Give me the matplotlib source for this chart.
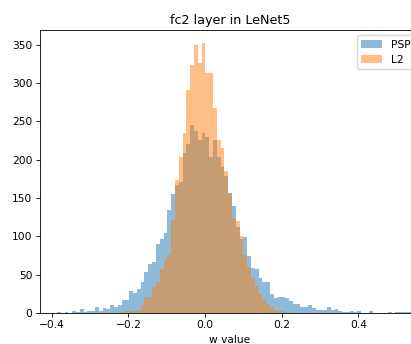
import numpy as np
import matplotlib
matplotlib.use("Agg")
import matplotlib.pyplot as plt

# ---- data ----
bin_start = -0.386
bin_width = 0.00992
psp_counts = [1, 0, 1, 0, 2, 1, 5, 1, 2, 2, 8, 3, 6, 5, 10, 8, 11, 17, 17, 29,
              26, 31, 40, 54, 64, 67, 90, 97, 104, 134, 155, 167, 171, 209, 221, 245, 237, 226, 235, 230,
              204, 226, 204, 191, 178, 156, 139, 112, 97, 99, 74, 59, 58, 45, 40, 41, 25, 19, 21, 21,
              20, 16, 12, 12, 8, 8, 10, 7, 4, 4, 4, 8, 4, 5, 2, 1, 1, 3, 1, 2,
              0, 0, 2, 0, 0, 0, 0, 1, 0, 1, 1, 1, 1]
l2_counts = [0, 0, 0, 0, 0, 0, 0, 0, 0, 0, 0, 0, 0, 0, 0, 0, 0, 1, 3, 2,
             2, 4, 11, 21, 21, 34, 40, 58, 70, 76, 121, 173, 203, 235, 291, 323, 350, 326, 352, 313,
             313, 267, 226, 215, 185, 155, 124, 120, 100, 75, 60, 45, 35, 25, 18, 12, 8, 4, 3, 2,
             1, 0, 0, 0, 0, 0, 0, 0, 0, 0, 0, 0, 0, 0, 0, 0, 0, 0, 0, 0,
             0, 0, 0, 0, 0, 0, 0, 0, 0, 0, 0, 0, 0]
series_labels = ["PSP", "L2"]
title = "fc2 layer in LeNet5"
xlabel = "w value"

# ---- style ----
s = 0.766
plt.rcParams.update({
    "font.size": 10 * s,
    "axes.titlesize": 12 * s,
    "axes.linewidth": 0.8 * s,
    "xtick.major.width": 0.8 * s,
    "ytick.major.width": 0.8 * s,
    "xtick.major.size": 3.5 * s,
    "ytick.major.size": 3.5 * s,
    "xtick.major.pad": 3.5 * s,
    "ytick.major.pad": 3.5 * s,
    "axes.titlepad": 6 * s,
    "axes.labelpad": 4 * s,
    "legend.fontsize": 10 * s,
})

W, H = 411, 344
fig = plt.figure(figsize=(W / 100, H / 100), dpi=100)
ax = fig.add_axes([40 / W, 31 / H, 380 / W, 283 / H])

n = len(psp_counts)
edges = bin_start + bin_width * np.arange(n + 1)
centers = (edges[:-1] + edges[1:]) / 2

ax.hist(centers, bins=edges, weights=psp_counts, alpha=0.5, label=series_labels[0])
ax.hist(centers, bins=edges, weights=l2_counts, alpha=0.5, label=series_labels[1])

ax.set_xlim(-0.4305, 0.561)
ax.set_ylim(0, 369)
ax.set_xticks([-0.4, -0.2, 0.0, 0.2, 0.4])
ax.set_yticks(np.arange(0, 351, 50))
ax.set_title(title)
ax.set_xlabel(xlabel)
ax.legend(loc="upper right")

fig.savefig("out.png", dpi=100)
